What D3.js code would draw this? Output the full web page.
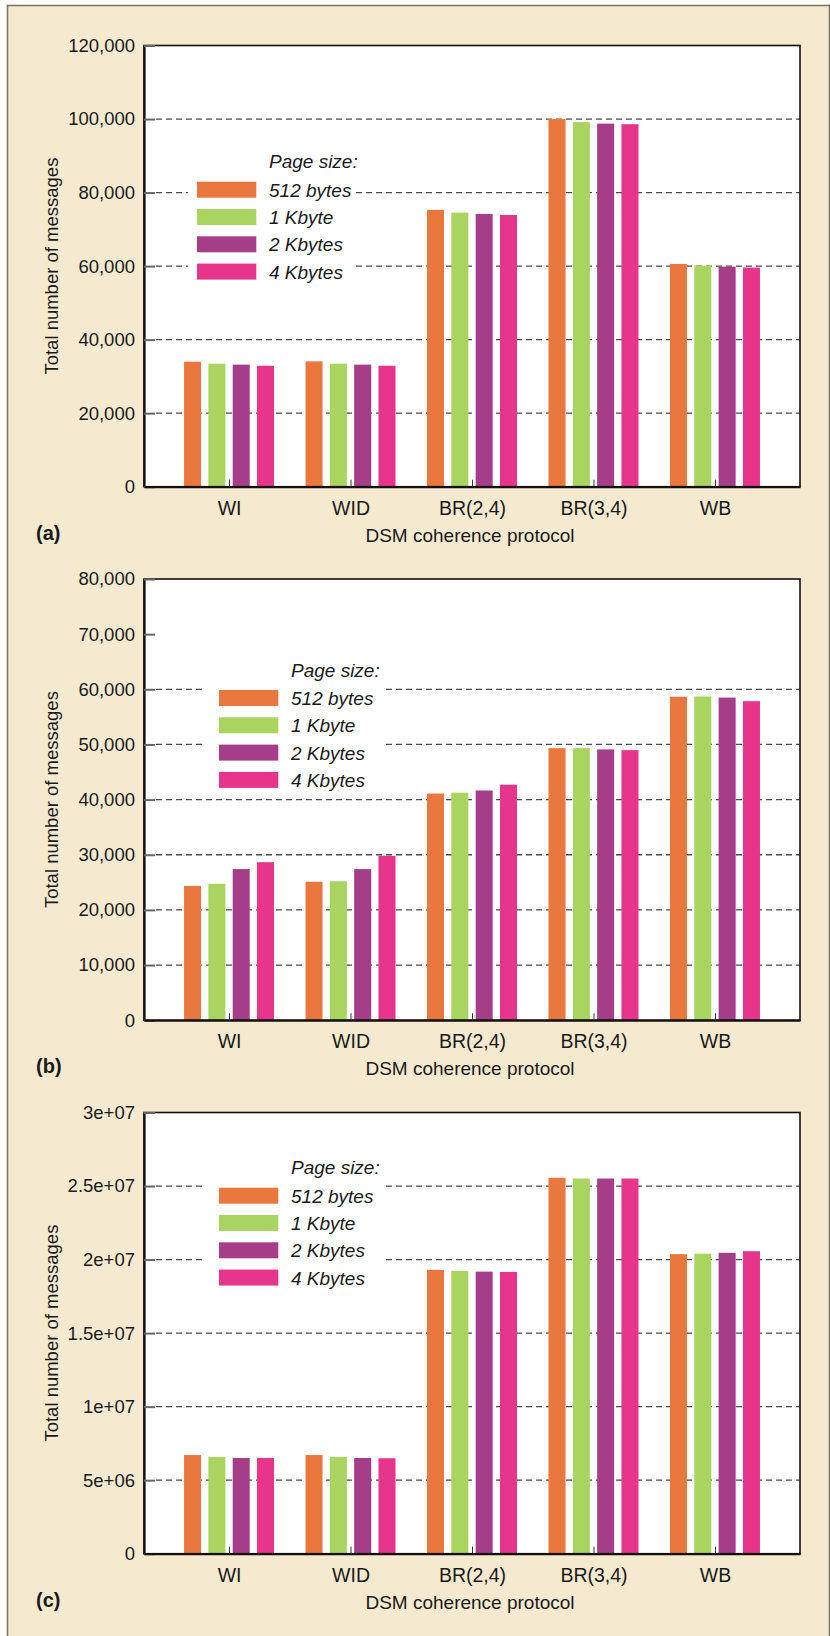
<!DOCTYPE html>
<html>
<head>
<meta charset="utf-8">
<script src="https://cdn.jsdelivr.net/npm/d3@7"></script>
<style>
  html, body { margin: 0; padding: 0; background: #ffffff; }
  svg { display: block; }
  text { font-family: "Liberation Sans", Arial, sans-serif; fill: #1a1a1a; }
</style>
</head>
<body>
<svg id="chart" width="830" height="1636"></svg>
<script>
// Protocols on the x axis and page sizes as the four bar series
const protocols = ["WI", "WID", "BR(2,4)", "BR(3,4)", "WB"];
const pageSizes = ["512 bytes", "1 Kbyte", "2 Kbytes", "4 Kbytes"];
const pageColors = ["#EA783E", "#A9D45F", "#A53D89", "#E6358A"];

// (a) total messages, one row per page size, one value per protocol
const messagesA = [
  [34000, 34100, 75300, 100000, 60600],
  [33450, 33450, 74550, 99150, 60150],
  [33200, 33200, 74200, 98750, 59850],
  [32900, 32900, 73900, 98600, 59600]
];
// (b)
const messagesB = [
  [24350, 25100, 41100, 49330, 58650],
  [24730, 25200, 41250, 49330, 58700],
  [27400, 27400, 41650, 49100, 58500],
  [28650, 29800, 42700, 48970, 57850]
];
// (c)
const messagesC = [
  [6.71e6, 6.71e6, 1.930e7, 2.556e7, 2.037e7],
  [6.58e6, 6.58e6, 1.923e7, 2.551e7, 2.040e7],
  [6.51e6, 6.51e6, 1.918e7, 2.551e7, 2.046e7],
  [6.51e6, 6.49e6, 1.916e7, 2.551e7, 2.057e7]
];

// y ticks, their labels and the levels that carry a dashed grid line
const ticksA = [0, 20000, 40000, 60000, 80000, 100000, 120000];
const tickLabelsA = ["0", "20,000", "40,000", "60,000", "80,000", "100,000", "120,000"];
const gridA = [20000, 40000, 60000, 80000, 100000];

const ticksB = [0, 10000, 20000, 30000, 40000, 50000, 60000, 70000, 80000];
const tickLabelsB = ["0", "10,000", "20,000", "30,000", "40,000", "50,000", "60,000", "70,000", "80,000"];
const gridB = [10000, 20000, 30000, 40000, 50000, 60000];

const ticksC = [0, 5e6, 1e7, 1.5e7, 2e7, 2.5e7, 3e7];
const tickLabelsC = ["0", "5e+06", "1e+07", "1.5e+07", "2e+07", "2.5e+07", "3e+07"];
const gridC = [5e6, 1e7, 1.5e7, 2e7, 2.5e7];

const panelTags = ["(a)", "(b)", "(c)"];

const svg = d3.select("#chart");

// beige page frame
svg.append("rect")
  .attr("x", 7.5).attr("y", 5.5)
  .attr("width", 822).attr("height", 1650)
  .attr("fill", "#F5EAD0")
  .attr("stroke", "#7d776b").attr("stroke-width", 1.6);

const plotLeft = 144, plotRight = 800, plotHeight = 441.2;

const panels = [
  { tag: panelTags[0], data: messagesA, ticks: ticksA, labels: tickLabelsA, grid: gridA,
    top: 45.5, legend: { swatchX: 197, textX: 269, rowTop: 181.7, boxX0: 188, boxX1: 355 } },
  { tag: panelTags[1], data: messagesB, ticks: ticksB, labels: tickLabelsB, grid: gridB,
    top: 579, legend: { swatchX: 219, textX: 291, rowTop: 690, boxX0: 204, boxX1: 384 } },
  { tag: panelTags[2], data: messagesC, ticks: ticksC, labels: tickLabelsC, grid: gridC,
    top: 1112.5, legend: { swatchX: 219, textX: 291, rowTop: 1187.7, boxX0: 204, boxX1: 384 } }
];

const x = d3.scalePoint().domain(protocols).range([plotLeft, plotRight]).padding(0.7);
const xInner = d3.scaleBand().domain(pageSizes).range([-45, 45]).paddingInner(0.3).paddingOuter(0);

panels.forEach(p => {
  const bottom = p.top + plotHeight;
  const y = d3.scaleLinear()
    .domain([0, p.ticks[p.ticks.length - 1]])
    .range([bottom, p.top]);

  const g = svg.append("g");

  // plot background
  g.append("rect")
    .attr("x", plotLeft).attr("y", p.top)
    .attr("width", plotRight - plotLeft).attr("height", plotHeight)
    .attr("fill", "#ffffff");

  // dashed grid
  g.append("g").selectAll("line").data(p.grid).join("line")
    .attr("x1", plotLeft + 12).attr("x2", plotRight)
    .attr("y1", d => y(d)).attr("y2", d => y(d))
    .attr("stroke", "#4a4a4a").attr("stroke-width", 1.3)
    .attr("stroke-dasharray", "6,4");

  // legend backing clears the grid lines behind it
  const L = p.legend;
  const rowStep = 27.3;
  g.append("rect")
    .attr("x", L.boxX0).attr("y", L.rowTop - 34)
    .attr("width", L.boxX1 - L.boxX0).attr("height", rowStep * 4 + 29)
    .attr("fill", "#ffffff");

  // bars
  p.data.forEach((row, si) => {
    g.append("g").selectAll("rect").data(row).join("rect")
      .attr("x", (d, i) => x(protocols[i]) + xInner(pageSizes[si]))
      .attr("width", xInner.bandwidth())
      .attr("y", d => y(d))
      .attr("height", d => bottom - y(d))
      .attr("fill", pageColors[si]);
  });

  // legend
  const lg = g.append("g").attr("font-style", "italic").attr("font-size", 19);
  lg.append("text")
    .attr("x", L.textX).attr("y", L.rowTop - 13.4)
    .text("Page size:");
  pageSizes.forEach((name, i) => {
    lg.append("rect")
      .attr("x", L.swatchX).attr("y", L.rowTop + i * rowStep)
      .attr("width", 59.3).attr("height", 16)
      .attr("fill", pageColors[i]);
    lg.append("text")
      .attr("x", L.textX).attr("y", L.rowTop + i * rowStep + 15)
      .text(name);
  });

  // frame of the plot
  g.append("rect")
    .attr("x", plotLeft).attr("y", p.top)
    .attr("width", plotRight - plotLeft).attr("height", plotHeight)
    .attr("fill", "none").attr("stroke", "#111").attr("stroke-width", 1.6);

  // y axis: inward ticks, labels on the left
  const yAxis = d3.axisLeft(y)
    .tickValues(p.ticks)
    .tickFormat((d, i) => p.labels[i])
    .tickSizeInner(-11).tickSizeOuter(0).tickPadding(9);
  const ya = g.append("g").attr("transform", `translate(${plotLeft},0)`).call(yAxis);
  ya.select(".domain").attr("stroke", "#111").attr("stroke-width", 2.2);
  ya.selectAll(".tick line").attr("stroke", "#666").attr("stroke-width", 2);
  ya.selectAll(".tick text")
    .attr("font-size", 18.5).attr("fill", "#1a1a1a")
    .attr("font-family", "'Liberation Sans', Arial, sans-serif");

  // x axis: short ticks pointing up at each protocol
  const xAxis = d3.axisBottom(x).tickSizeInner(-7).tickSizeOuter(0).tickPadding(14);
  const xa = g.append("g").attr("transform", `translate(0,${bottom})`).call(xAxis);
  xa.select(".domain").attr("stroke", "#111").attr("stroke-width", 2.2);
  xa.selectAll(".tick line").attr("stroke", "#333").attr("stroke-width", 1);
  xa.selectAll(".tick text")
    .attr("font-size", 19.5).attr("fill", "#1a1a1a")
    .attr("font-family", "'Liberation Sans', Arial, sans-serif");

  // axis titles
  g.append("text")
    .attr("transform", `translate(58,${(p.top + bottom) / 2}) rotate(-90)`)
    .attr("text-anchor", "middle").attr("font-size", 18.5)
    .text("Total number of messages");
  g.append("text")
    .attr("x", 470).attr("y", bottom + 55)
    .attr("text-anchor", "middle").attr("font-size", 19)
    .text("DSM coherence protocol");

  // panel tag
  g.append("text")
    .attr("x", 36).attr("y", bottom + 53)
    .attr("font-weight", "bold").attr("font-size", 20)
    .text(p.tag);
});
</script>
</body>
</html>
